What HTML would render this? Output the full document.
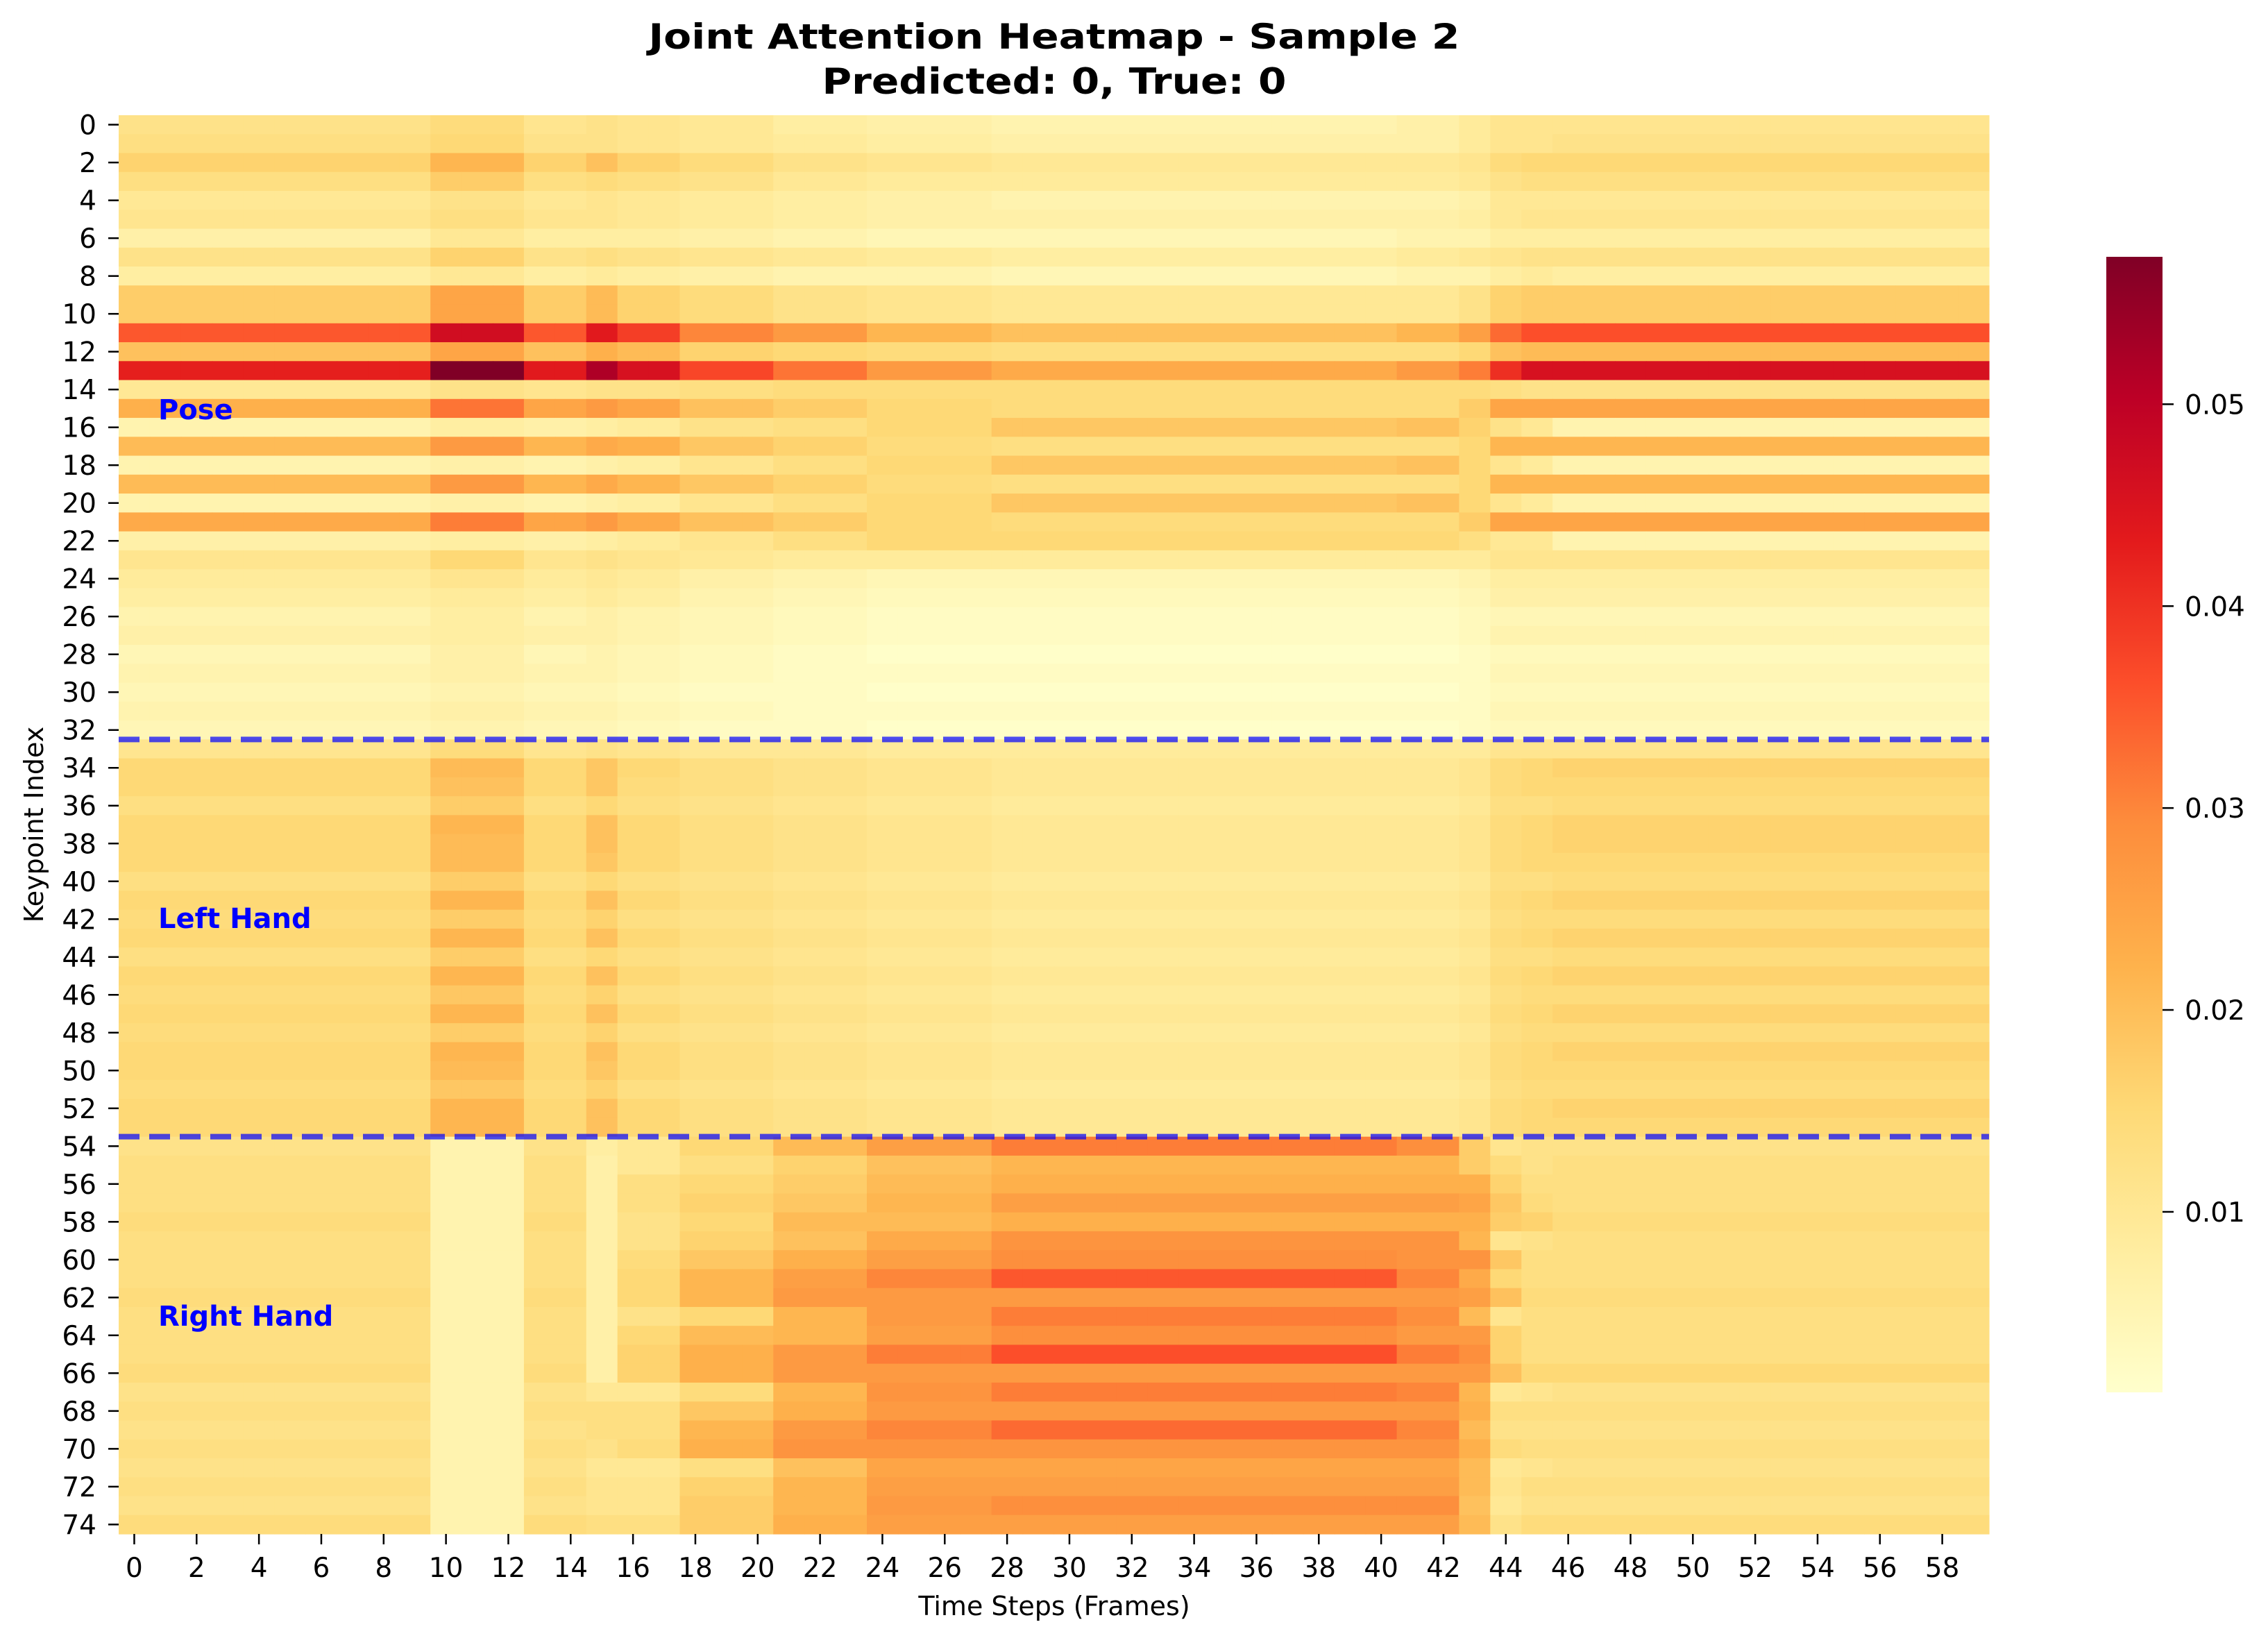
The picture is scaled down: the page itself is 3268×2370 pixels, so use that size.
<!DOCTYPE html>
<html><head><meta charset="utf-8"><style>
html,body{margin:0;padding:0;background:#fff;}
svg{display:block;}
text{font-family:"DejaVu Sans","Liberation Sans",sans-serif;}
</style></head><body>
<svg id="chart" xmlns="http://www.w3.org/2000/svg" width="3268" height="2370" viewBox="0 0 3268 2370">
<defs>
<linearGradient id="cbgrad" x1="0" y1="1" x2="0" y2="0">
<stop offset="0" stop-color="#ffffcc"/><stop offset="0.125" stop-color="#ffeda0"/><stop offset="0.25" stop-color="#fed976"/><stop offset="0.375" stop-color="#feb24c"/><stop offset="0.5" stop-color="#fd8d3c"/><stop offset="0.625" stop-color="#fc4e2a"/><stop offset="0.75" stop-color="#e31a1c"/><stop offset="0.875" stop-color="#bd0026"/><stop offset="1" stop-color="#800026"/>
</linearGradient>
</defs>
<text x="1519" y="70" text-anchor="middle" font-size="50" font-weight="bold" textLength="1169" lengthAdjust="spacingAndGlyphs">Joint Attention Heatmap - Sample 2</text>
<text x="1519" y="135" text-anchor="middle" font-size="52" font-weight="bold" textLength="669" lengthAdjust="spacingAndGlyphs">Predicted: 0, True: 0</text>
<g id="cells"></g>
<g id="xticks"></g>
<g id="yticks"></g>
<text x="1519" y="2327" text-anchor="middle" font-size="38">Time Steps (Frames)</text>
<text x="0" y="0" text-anchor="middle" font-size="38" transform="translate(62,1188) rotate(-90)">Keypoint Index</text>
<g id="seps"></g>
<text x="228" y="604" font-size="40" font-weight="bold" fill="#0000ff">Pose</text>
<text x="228" y="1337" font-size="40" font-weight="bold" fill="#0000ff">Left Hand</text>
<text x="228" y="1910" font-size="40" font-weight="bold" fill="#0000ff">Right Hand</text>
<rect x="3035" y="370" width="81" height="1636" fill="url(#cbgrad)"/>
<g id="cbticks"></g>
</svg>
<script>
// Column segment index for each of the 60 time steps
const colSegment = [0,0,0,0,0,0,0,0,0,0, 1,1,1, 2,2, 3, 4,4, 5,5,5, 6,6,6, 7,7,7,7, 8,8,8,8,8,8,8,8,8,8,8,8,8, 9,9, 10, 11, 12, 13,13,13,13,13,13,13,13,13,13,13,13,13,13];
// Attention values (x1e-3) per keypoint row, one value per column segment
const rowValues = [
[12,14,11,12,11,10,8,7,6,7,9,11,11,11],
[13,15,12,12,11,10,9,8,7,7,9,11,11,12],
[16,21,16,19,16,14,12,11,10,10,11,14,15,15],
[13,17,13,14,13,12,10,9,9,9,10,12,13,13],
[10,12,10,11,10,9,8,7,6,6,7,10,10,10],
[11,13,11,11,10,9,8,7,7,7,8,10,11,11],
[7,10,8,8,8,7,6,5,5,6,6,8,8,8],
[12,16,12,13,12,11,10,9,8,9,10,11,12,12],
[8,10,8,9,8,7,6,6,5,6,6,8,9,8],
[17,24,17,20,16,14,12,11,10,10,12,16,17,17],
[17,24,17,20,16,14,12,11,10,10,12,16,17,17],
[34,45,34,42,37,29,26,21,19,21,25,32,35,35],
[19,24,19,22,20,16,15,14,13,13,15,19,20,20],
[41,55,42,50,44,36,31,26,23,26,30,39,44,44],
[10,12,11,12,12,13,14,14,14,14,14,13,12,12],
[22,31,24,26,24,19,17,15,14,14,17,24,24,24],
[6,8,7,8,9,12,13,15,18,19,16,12,10,6],
[20,26,21,23,22,18,16,14,13,13,15,21,21,21],
[6,7,6,7,8,11,13,15,18,19,15,11,9,6],
[20,26,21,23,21,18,16,14,13,13,15,21,21,21],
[6,7,6,7,8,11,13,15,18,19,15,11,9,6],
[23,30,24,26,23,19,17,15,14,14,17,24,24,24],
[7,8,7,8,9,11,13,15,15,15,13,10,10,6],
[11,15,11,12,11,10,9,9,9,9,9,11,11,11],
[9,11,9,10,9,7,6,5,5,5,6,8,8,8],
[8,9,8,9,8,6,5,4,4,4,5,7,7,7],
[6,8,6,7,6,5,4,3,3,3,4,5,5,5],
[7,8,7,7,6,5,4,3,3,3,4,6,6,6],
[5,7,5,6,5,4,3,2,2,2,3,4,4,4],
[6,7,6,6,5,4,3,3,3,3,3,5,5,5],
[5,6,5,5,4,3,3,2,2,2,3,4,4,4],
[6,7,6,6,5,4,3,3,3,3,3,5,5,5],
[5,6,5,5,4,3,3,2,2,2,3,4,4,4],
[11,14,11,12,11,10,10,9,9,9,9,11,11,11],
[15,20,15,18,15,13,12,11,10,10,11,14,15,16],
[15,19,15,18,14,13,12,11,10,10,11,14,15,15],
[13,17,13,15,13,12,11,10,9,9,10,13,13,14],
[15,21,15,19,15,13,12,11,10,10,11,14,15,16],
[15,20,15,19,15,13,12,11,10,10,11,14,15,16],
[15,20,15,18,15,13,12,11,10,10,11,14,15,15],
[13,17,13,15,13,12,11,10,9,9,10,13,13,14],
[15,21,15,19,15,13,12,11,10,10,11,14,15,16],
[14,17,14,16,13,12,11,10,9,9,10,13,14,14],
[15,21,15,19,15,13,12,11,10,10,11,14,15,16],
[13,17,13,15,13,12,11,10,9,9,10,13,13,14],
[15,21,15,19,15,13,12,11,10,10,11,14,15,16],
[14,18,14,16,13,12,11,10,9,9,10,13,14,14],
[15,21,15,19,15,13,12,11,10,10,11,14,15,16],
[14,17,14,16,13,12,11,10,9,9,10,13,14,14],
[15,21,15,19,15,13,12,11,10,10,11,14,15,16],
[15,20,15,18,15,13,12,11,10,10,11,14,15,15],
[14,18,14,16,13,12,11,10,9,9,10,13,14,14],
[15,21,15,19,15,13,12,11,10,10,11,14,15,16],
[15,21,15,19,15,13,12,11,10,10,11,14,15,15],
[12,6,12,8,10,15,20,25,30,28,17,11,12,12],
[13,6,13,7,10,13,16,19,21,21,17,14,12,13],
[13,6,13,7,13,15,17,20,22,22,22,16,13,13],
[13,6,13,7,13,16,18,21,25,25,24,18,14,13],
[14,6,14,7,12,15,20,20,22,22,22,17,16,14],
[13,6,13,7,12,16,19,23,27,27,21,11,12,13],
[13,6,13,7,14,18,22,25,28,27,27,18,13,13],
[13,6,13,7,15,21,25,29,34,29,23,15,13,13],
[14,6,14,7,15,21,26,26,26,26,25,19,14,14],
[13,6,13,7,12,15,21,26,30,28,20,11,13,13],
[13,6,13,7,15,20,21,25,28,26,26,16,13,13],
[13,6,13,7,16,22,26,30,35,30,28,16,13,13],
[14,6,14,7,16,22,26,26,26,26,26,19,15,15],
[12,6,12,10,10,14,21,27,30,29,21,10,11,12],
[13,6,13,13,13,18,22,26,26,26,22,13,13,13],
[12,6,12,13,13,21,26,29,32,29,20,12,12,12],
[13,6,13,12,14,22,27,27,27,27,22,14,13,13],
[12,6,12,10,10,13,19,24,24,24,20,10,11,12],
[13,6,13,11,11,16,21,25,25,25,20,11,13,13],
[12,6,12,11,11,17,21,26,28,28,19,10,12,12],
[14,6,14,13,13,17,22,25,25,25,20,12,14,14]
];
const xTickLabels = ["0","2","4","6","8","10","12","14","16","18","20","22","24","26","28","30","32","34","36","38","40","42","44","46","48","50","52","54","56","58"];
const yTickLabels = ["0","2","4","6","8","10","12","14","16","18","20","22","24","26","28","30","32","34","36","38","40","42","44","46","48","50","52","54","56","58","60","62","64","66","68","70","72","74"];
const cbTickValues = [0.01,0.02,0.03,0.04,0.05];
const groupBoundaries = [33,54];

const NS = "http://www.w3.org/2000/svg";
const nCols = colSegment.length, nRows = rowValues.length;
const PX0 = 171, PX1 = 2866, PY0 = 166, PY1 = 2210;
const cw = (PX1 - PX0) / nCols, rh = (PY1 - PY0) / nRows;
const xScale = c => PX0 + c * cw;
const yScale = r => PY0 + r * rh;
const VMIN = 1.6, VMAX = 55;
const CBY0 = 2006, CBY1 = 370, CBVMIN = 0.00106, CBVMAX = 0.0573;
const cbScale = v => CBY0 + (v - CBVMIN) / (CBVMAX - CBVMIN) * (CBY1 - CBY0);
const stops = [[255,255,204],[255,237,160],[254,217,118],[254,178,76],[253,141,60],[252,78,42],[227,26,28],[189,0,38],[128,0,38]];
function cmap(v){
  let t = Math.max(0, Math.min(1, (v - VMIN) / (VMAX - VMIN))) * 8;
  const i = Math.min(7, Math.floor(t)), f = t - i;
  const a = stops[i], b = stops[i+1];
  return "rgb(" + a.map((x,k)=>Math.round(x + (b[k]-x)*f)).join(",") + ")";
}
function mk(tag, attrs, parent){
  const e = document.createElementNS(NS, tag);
  for (const k in attrs) e.setAttribute(k, attrs[k]);
  parent.appendChild(e);
  return e;
}
const cells = document.getElementById("cells");
for (let r = 0; r < nRows; r++) {
  for (let c = 0; c < nCols; c++) {
    const v = rowValues[r][colSegment[c]];
    const x0 = xScale(c), x1 = xScale(c+1), y0 = yScale(r), y1 = yScale(r+1);
    const el = mk("rect", {x: x0.toFixed(2), y: y0.toFixed(2), width: (x1-x0+0.6).toFixed(2), height: (y1-y0+0.6).toFixed(2), fill: cmap(v)}, cells);
    
    
  }
}
const xt = document.getElementById("xticks");
xTickLabels.forEach(lab => {
  const x = xScale(+lab + 0.5);
  const t = mk("line", {x1:x, x2:x, y1:PY1, y2:PY1+15, stroke:"#000", "stroke-width":2.5}, xt);
  
  
  const s = mk("text", {x:x, y:2272, "text-anchor":"middle", "font-size":39}, xt);
  s.textContent = lab;
  
  
});
const yt = document.getElementById("yticks");
yTickLabels.forEach(lab => {
  const y = yScale(+lab + 0.5);
  const t = mk("line", {x1:PX0-15, x2:PX0, y1:y, y2:y, stroke:"#000", "stroke-width":2.5}, yt);
  
  
  const s = mk("text", {x:139, y:y+14, "text-anchor":"end", "font-size":39}, yt);
  s.textContent = lab;
  
  
});
const seps = document.getElementById("seps");
groupBoundaries.forEach(b => {
  const y = yScale(b);
  const l = mk("line", {x1:PX0, x2:PX1, y1:y, y2:y, stroke:"#0000ff", "stroke-opacity":0.7, "stroke-width":8, "stroke-dasharray":"30 14"}, seps);
  
  
});
const cbt = document.getElementById("cbticks");
cbTickValues.forEach(v => {
  const y = cbScale(v);
  const t = mk("line", {x1:3116, x2:3132, y1:y, y2:y, stroke:"#000", "stroke-width":2.5}, cbt);
  
  
  const s = mk("text", {x:3148, y:y+14, "font-size":39}, cbt);
  s.textContent = v.toFixed(2);
  
  
});
</script>
</body></html>
